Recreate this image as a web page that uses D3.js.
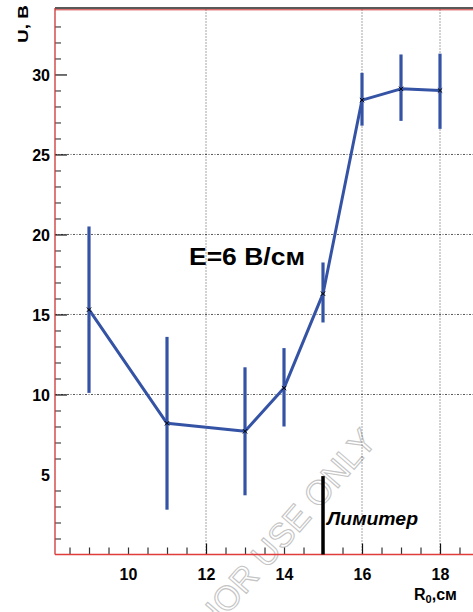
<!DOCTYPE html>
<html><head><meta charset="utf-8">
<script src="https://cdn.jsdelivr.net/npm/d3@7"></script>
<style>body{margin:0;background:#fff}svg{display:block}text{font-family:"Liberation Sans",Arial,sans-serif}</style>
</head><body>
<svg id="c" width="473" height="612"></svg>
<script>
const rValues = [9, 11, 13, 14, 15, 16, 17, 18];
const uValues = [15.3, 8.2, 7.7, 10.4, 16.3, 28.4, 29.1, 29.0];
const uLow    = [10.1, 2.8, 3.7, 8.0, 14.5, 26.8, 27.1, 26.6];
const uHigh   = [20.5, 13.6, 11.7, 12.9, 18.25, 30.1, 31.25, 31.3];
const xTickLabels = [10, 12, 14, 16, 18];
const yTickLabels = [5, 10, 15, 20, 25, 30];
const xGrid = [12, 16, 18];
const yGrid = [10, 15, 20, 25];
const limiterR = 15;
const limiterTop = 4.9;

const svg = d3.select("#c");
const L = 55, R = 473, T = 9.5, B = 554.5;
const x = d3.scaleLinear().domain([8.128, 18.846]).range([L, R]);
const y = d3.scaleLinear().domain([0, 34.06]).range([B, T]);
const blue = "#3553a5", red = "#cc3333";

// watermark
svg.append("text").attr("transform", "translate(378,442) rotate(-49)")
  .attr("text-anchor", "end").attr("font-size", 34)
  .attr("fill", "none").attr("stroke", "#c4c4c4").attr("stroke-width", 1.1)
  .text("FOR AUTHOR USE ONLY");

// grid
svg.append("g").selectAll("line").data(yGrid).join("line")
  .attr("x1", L).attr("x2", R).attr("y1", d => y(d)).attr("y2", d => y(d))
  .attr("stroke", "#444").attr("stroke-width", 0.9).attr("stroke-dasharray", "2,1.5,1,1.5");
svg.append("g").selectAll("line").data(xGrid).join("line")
  .attr("x1", d => x(d)).attr("x2", d => x(d)).attr("y1", T).attr("y2", B)
  .attr("stroke", "#222").attr("stroke-width", 0.8).attr("stroke-dasharray", "1,2");

// y axis ticks
const yMinor = d3.range(1, 34).filter(v => v % 5 !== 0);
const yAxMinor = svg.append("g").attr("transform", `translate(${L},0)`)
  .call(d3.axisRight(y).tickValues(yMinor).tickSize(6).tickFormat(""));
yAxMinor.select(".domain").remove();
yAxMinor.selectAll("line").attr("stroke", "#444").attr("stroke-width", 1.2);
const yAxMajor = svg.append("g").attr("transform", `translate(${L},0)`)
  .call(d3.axisRight(y).tickValues(yTickLabels.filter(v => v !== 5)).tickSize(12).tickFormat(""));
yAxMajor.select(".domain").remove();
yAxMajor.selectAll("line").attr("stroke", "#111").attr("stroke-width", 1.2);
const yLab = svg.append("g").attr("transform", `translate(${L - 5},0)`)
  .call(d3.axisLeft(y).tickValues(yTickLabels).tickSize(0));
yLab.select(".domain").remove();
yLab.selectAll("text").attr("font-size", 16).attr("font-weight", "bold").attr("fill", "#000")
  .attr("font-family", "'Liberation Sans',Arial,sans-serif").attr("dy", "0.4em").attr("x", 0);

// x axis ticks
const xMinor = d3.range(8.5, 18.9, 0.5).filter(v => xGrid.indexOf(v) < 0);
const xAxMinor = svg.append("g").attr("transform", `translate(0,${B})`)
  .call(d3.axisTop(x).tickValues(xMinor).tickSize(7).tickFormat(""));
xAxMinor.select(".domain").remove();
xAxMinor.selectAll("line").attr("stroke", "#333").attr("stroke-width", 1.2);
const xAxMajor = svg.append("g").attr("transform", `translate(0,${B})`)
  .call(d3.axisTop(x).tickValues(xGrid).tickSize(11).tickFormat(""));
xAxMajor.select(".domain").remove();
xAxMajor.selectAll("line").attr("stroke", "#111").attr("stroke-width", 1.2);
const xLab = svg.append("g").attr("transform", `translate(0,580)`)
  .call(d3.axisBottom(x).tickValues(xTickLabels).tickSize(0));
xLab.select(".domain").remove();
xLab.selectAll("text").attr("font-size", 16).attr("font-weight", "bold").attr("fill", "#000")
  .attr("font-family", "'Liberation Sans',Arial,sans-serif").attr("y", 0).attr("dy", 0);

// frame
svg.append("line").attr("x1", L).attr("x2", R).attr("y1", 8).attr("y2", 8).attr("stroke", "#222").attr("stroke-width", 1.5);
svg.append("line").attr("x1", L).attr("x2", R).attr("y1", 9.8).attr("y2", 9.8).attr("stroke", red).attr("stroke-width", 1);
svg.append("line").attr("x1", L).attr("x2", L).attr("y1", 8).attr("y2", B).attr("stroke", red).attr("stroke-width", 1.3);
svg.append("line").attr("x1", L).attr("x2", R).attr("y1", B).attr("y2", B).attr("stroke", "#e03c3c").attr("stroke-width", 1.5);

// limiter
svg.append("line").attr("x1", x(limiterR)).attr("x2", x(limiterR)).attr("y1", y(limiterTop)).attr("y2", B)
  .attr("stroke", "#000").attr("stroke-width", 3.5);
svg.append("text").attr("x", 327).attr("y", 525).attr("font-size", 18).attr("font-weight", "bold")
  .attr("font-style", "italic").attr("textLength", 91).attr("lengthAdjust", "spacingAndGlyphs").text("Лимитер");

// error bars
svg.append("g").selectAll("line").data(rValues).join("line")
  .attr("x1", d => x(d)).attr("x2", d => x(d))
  .attr("y1", (d, i) => y(uLow[i])).attr("y2", (d, i) => y(uHigh[i]))
  .attr("stroke", blue).attr("stroke-width", 3.2);

// line
const pts = rValues.map((r, i) => [r, uValues[i]]);
svg.append("path").datum(pts)
  .attr("d", d3.line().x(d => x(d[0])).y(d => y(d[1])))
  .attr("fill", "none").attr("stroke", blue).attr("stroke-width", 3).attr("stroke-linejoin", "round");

// markers
svg.append("g").selectAll("path").data(pts).join("path")
  .attr("d", d => { const cx = x(d[0]), cy = y(d[1]), s = 2.2; return `M${cx - s},${cy - s}L${cx + s},${cy + s}M${cx - s},${cy + s}L${cx + s},${cy - s}`; })
  .attr("stroke", "#000").attr("stroke-width", 1);

// annotation
svg.append("text").attr("x", 189).attr("y", 265).attr("font-size", 23).attr("font-weight", "bold")
  .attr("textLength", 116).attr("lengthAdjust", "spacingAndGlyphs").text("E=6 В/см");

// axis titles
svg.append("text").attr("transform", "translate(28,43) rotate(-90)").attr("font-size", 15)
  .attr("font-weight", "bold").attr("textLength", 38).attr("lengthAdjust", "spacingAndGlyphs").text("U, В");
const xt = svg.append("text").attr("x", 414).attr("y", 600).attr("font-size", 16).attr("font-weight", "bold");
xt.append("tspan").text("R");
xt.append("tspan").attr("font-size", 11).attr("dy", 3).text("0");
xt.append("tspan").attr("dy", -3).text(",см");
</script>
</body></html>
